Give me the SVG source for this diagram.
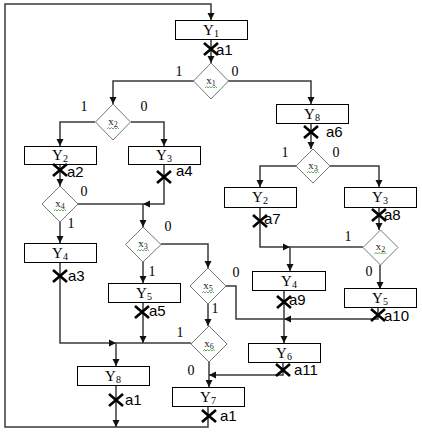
<svg xmlns="http://www.w3.org/2000/svg" width="422" height="432" viewBox="0 0 422 432">
<defs>
<marker id="ah" markerWidth="8" markerHeight="8" refX="7" refY="4" orient="auto" markerUnits="userSpaceOnUse">
<path d="M0,0.5 L7,4 L0,7.5 Z" fill="#111"/>
</marker>
<style>
.box{fill:#fff;stroke:#000;stroke-width:1}
.dia{fill:#fff;stroke:#777;stroke-width:1}
.ln{fill:none;stroke:#3a3a3a;stroke-width:1.5}
.ln2{fill:none;stroke:#3a3a3a;stroke-width:1.5;marker-end:url(#ah)}
.yt{font-family:"Liberation Serif",serif;font-size:15px;fill:#000;text-anchor:middle}
.xt{font-family:"Liberation Serif",serif;font-size:11px;fill:#222;text-anchor:middle}
.bl{font-family:"Liberation Serif",serif;font-size:14px;fill:#000;text-anchor:middle}
.al{font-family:"Liberation Sans",Arial,sans-serif;font-size:15px;fill:#000}
.cr{stroke:#000;stroke-width:2.6;fill:none}
.sq{stroke:#3a9a3a;stroke-width:0.8;fill:none}
</style>
</defs>
<rect width="422" height="432" fill="#fff"/>
<g id="connectors">
<path class="ln2" d="M208,406 V427 H5 V4 H211 V20"/>
<path class="ln2" d="M211,39 V63"/>
<path class="ln2" d="M194,81 H113 V104"/>
<path class="ln2" d="M228,81 H311 V104"/>
<path class="ln2" d="M311,123 V149"/>
<path class="ln2" d="M95,122 H60 V146"/>
<path class="ln2" d="M131,122 H164 V146"/>
<path class="ln2" d="M60,164 V186"/>
<path class="ln2" d="M164,164 V204 H143"/>
<path class="ln" d="M78,204 H143"/>
<path class="ln2" d="M143,204 V227"/>
<path class="ln2" d="M60,222 V243"/>
<path class="ln2" d="M60,262 V343 H116"/>
<path class="ln" d="M116,343 H191"/>
<path class="ln2" d="M116,343 V366"/>
<path class="ln2" d="M143,262 V283"/>
<path class="ln2" d="M143,302 V343"/>
<path class="ln2" d="M161,244 H208 V268"/>
<path class="ln2" d="M208,304 V326"/>
<path class="ln" d="M226,286 H236 V319 H284"/>
<path class="ln2" d="M378,307 V319 H284"/>
<path class="ln2" d="M284,290 V343"/>
<path class="ln2" d="M296,166 H260 V187"/>
<path class="ln2" d="M330,166 H379 V187"/>
<path class="ln2" d="M260,207 V247 H290"/>
<path class="ln" d="M363,247 H290"/>
<path class="ln2" d="M290,247 V271"/>
<path class="ln2" d="M379,207 V230"/>
<path class="ln2" d="M380,265 V289"/>
<path class="ln2" d="M209,362 V387"/>
<path class="ln2" d="M283,362 V375 H209"/>
<path class="ln2" d="M116,385 V427"/>
</g>
<g id="branch-labels">
<text class="bl" x="179" y="76">1</text><text class="bl" x="235" y="76">0</text>
<text class="bl" x="84" y="111">1</text><text class="bl" x="144" y="111">0</text>
<text class="bl" x="84" y="196">0</text><text class="bl" x="71" y="228">1</text>
<text class="bl" x="168" y="231">0</text><text class="bl" x="152" y="276">1</text>
<text class="bl" x="285" y="157">1</text><text class="bl" x="336" y="157">0</text>
<text class="bl" x="348" y="241">1</text><text class="bl" x="369" y="276">0</text>
<text class="bl" x="236" y="277">0</text><text class="bl" x="215" y="313">1</text>
<text class="bl" x="180" y="337">1</text><text class="bl" x="191" y="375">0</text>
</g>
<g id="Y1"><rect class="box" x="175.5" y="20.5" width="72" height="19"/><text class="yt" x="211" y="35">Y<tspan font-size="10" dy="2">1</tspan></text></g>
<g id="Y8a"><rect class="box" x="276.5" y="104.5" width="72" height="19"/><text class="yt" x="312" y="119">Y<tspan font-size="10" dy="2">8</tspan></text></g>
<g id="Y2a"><rect class="box" x="24.5" y="146.5" width="72" height="18"/><text class="yt" x="60" y="160">Y<tspan font-size="10" dy="2">2</tspan></text></g>
<g id="Y3a"><rect class="box" x="128.5" y="146.5" width="72" height="18"/><text class="yt" x="164" y="160">Y<tspan font-size="10" dy="2">3</tspan></text></g>
<g id="Y4a"><rect class="box" x="24.5" y="243.5" width="72" height="19"/><text class="yt" x="60" y="258">Y<tspan font-size="10" dy="2">4</tspan></text></g>
<g id="Y5a"><rect class="box" x="108.5" y="283.5" width="72" height="19"/><text class="yt" x="144" y="298">Y<tspan font-size="10" dy="2">5</tspan></text></g>
<g id="Y8b"><rect class="box" x="77.5" y="366.5" width="72" height="19"/><text class="yt" x="113" y="381">Y<tspan font-size="10" dy="2">8</tspan></text></g>
<g id="Y7"><rect class="box" x="172.5" y="387.5" width="72" height="19"/><text class="yt" x="208" y="402">Y<tspan font-size="10" dy="2">7</tspan></text></g>
<g id="Y2b"><rect class="box" x="224.5" y="187.5" width="72" height="20"/><text class="yt" x="260" y="202">Y<tspan font-size="10" dy="2">2</tspan></text></g>
<g id="Y3b"><rect class="box" x="344.5" y="187.5" width="72" height="20"/><text class="yt" x="380" y="202">Y<tspan font-size="10" dy="2">3</tspan></text></g>
<g id="Y4b"><rect class="box" x="252.5" y="271.5" width="73" height="19"/><text class="yt" x="289" y="286">Y<tspan font-size="10" dy="2">4</tspan></text></g>
<g id="Y5b"><rect class="box" x="344.5" y="288.5" width="72" height="19"/><text class="yt" x="380" y="303">Y<tspan font-size="10" dy="2">5</tspan></text></g>
<g id="Y6"><rect class="box" x="248.5" y="343.5" width="72" height="19"/><text class="yt" x="284" y="358">Y<tspan font-size="10" dy="2">6</tspan></text></g>
<g id="x1"><path class="dia" d="M211,63 L228.5,81 L211,99 L193.5,81 Z"/><text class="xt" x="211" y="84">x<tspan font-size="8" dy="2">1</tspan></text><path class="sq" d="M205,88 l1.5,-1.5 l1.5,1.5 l1.5,-1.5 l1.5,1.5 l1.5,-1.5 l1.5,1.5 l1.5,-1.5 l1.5,1.5"/></g>
<g id="x2a"><path class="dia" d="M113,104 L130.5,122 L113,140 L95.5,122 Z"/><text class="xt" x="113" y="125">x<tspan font-size="8" dy="2">2</tspan></text><path class="sq" d="M107,129 l1.5,-1.5 l1.5,1.5 l1.5,-1.5 l1.5,1.5 l1.5,-1.5 l1.5,1.5 l1.5,-1.5 l1.5,1.5"/></g>
<g id="x4"><path class="dia" d="M60,186 L78,204 L60,222 L42,204 Z"/><text class="xt" x="60" y="207">x<tspan font-size="8" dy="2">4</tspan></text><path class="sq" d="M54,211 l1.5,-1.5 l1.5,1.5 l1.5,-1.5 l1.5,1.5 l1.5,-1.5 l1.5,1.5 l1.5,-1.5 l1.5,1.5"/></g>
<g id="x3a"><path class="dia" d="M143,227 L161,244.5 L143,262 L125.5,244.5 Z"/><text class="xt" x="143" y="247">x<tspan font-size="8" dy="2">3</tspan></text><path class="sq" d="M137,251 l1.5,-1.5 l1.5,1.5 l1.5,-1.5 l1.5,1.5 l1.5,-1.5 l1.5,1.5 l1.5,-1.5 l1.5,1.5"/></g>
<g id="x5"><path class="dia" d="M208,268 L226,286 L208,304 L190,286 Z"/><text class="xt" x="208" y="289">x<tspan font-size="8" dy="2">5</tspan></text><path class="sq" d="M202,293 l1.5,-1.5 l1.5,1.5 l1.5,-1.5 l1.5,1.5 l1.5,-1.5 l1.5,1.5 l1.5,-1.5 l1.5,1.5"/></g>
<g id="x6"><path class="dia" d="M209,326 L227,344 L209,362 L191,344 Z"/><text class="xt" x="209" y="347">x<tspan font-size="8" dy="2">6</tspan></text><path class="sq" d="M203,351 l1.5,-1.5 l1.5,1.5 l1.5,-1.5 l1.5,1.5 l1.5,-1.5 l1.5,1.5 l1.5,-1.5 l1.5,1.5"/></g>
<g id="x3b"><path class="dia" d="M313,149 L330,166 L313,183 L296,166 Z"/><text class="xt" x="313" y="169">x<tspan font-size="8" dy="2">3</tspan></text><path class="sq" d="M307,173 l1.5,-1.5 l1.5,1.5 l1.5,-1.5 l1.5,1.5 l1.5,-1.5 l1.5,1.5 l1.5,-1.5 l1.5,1.5"/></g>
<g id="x2b"><path class="dia" d="M380.5,230 L398,247.5 L380.5,265 L363,247.5 Z"/><text class="xt" x="380.5" y="250">x<tspan font-size="8" dy="2">2</tspan></text><path class="sq" d="M374.5,254 l1.5,-1.5 l1.5,1.5 l1.5,-1.5 l1.5,1.5 l1.5,-1.5 l1.5,1.5 l1.5,-1.5 l1.5,1.5"/></g>
<g id="marks">
<path class="cr" d="M204,43 l14,12 M218,43 l-14,12"/><text class="al" x="216" y="55">a1</text>
<path class="cr" d="M304,126 l14,12 M318,126 l-14,12"/><text class="al" x="326" y="137">a6</text>
<path class="cr" d="M53,164 l14,12 M67,164 l-14,12"/><text class="al" x="67" y="177">a2</text>
<path class="cr" d="M157,171 l14,12 M171,171 l-14,12"/><text class="al" x="176" y="176">a4</text>
<path class="cr" d="M53,270 l14,12 M67,270 l-14,12"/><text class="al" x="68" y="281">a3</text>
<path class="cr" d="M135,306 l14,12 M149,306 l-14,12"/><text class="al" x="149" y="316">a5</text>
<path class="cr" d="M253,215 l14,12 M267,215 l-14,12"/><text class="al" x="264" y="224">a7</text>
<path class="cr" d="M372,209 l14,12 M386,209 l-14,12"/><text class="al" x="384" y="220">a8</text>
<path class="cr" d="M277,296 l14,12 M291,296 l-14,12"/><text class="al" x="289" y="305">a9</text>
<path class="cr" d="M371,309 l14,12 M385,309 l-14,12"/><text class="al" x="384" y="321">a10</text>
<path class="cr" d="M276,364 l14,12 M290,364 l-14,12"/><text class="al" x="294" y="375">a11</text>
<path class="cr" d="M109,394 l14,12 M123,394 l-14,12"/><text class="al" x="125" y="405">a1</text>
<path class="cr" d="M202,410 l14,12 M216,410 l-14,12"/><text class="al" x="220" y="421">a1</text>
</g>
</svg>
